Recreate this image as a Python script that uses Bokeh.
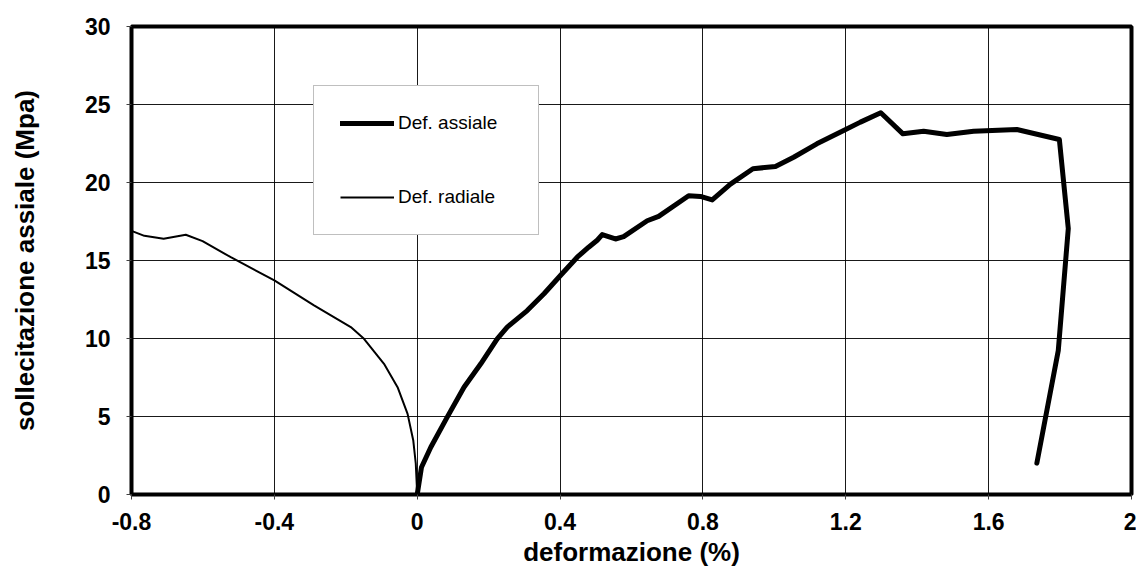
from bokeh.plotting import figure
from bokeh.models import FixedTicker, Legend, LegendItem, Range1d
from bokeh.embed import file_html
from bokeh.resources import INLINE

# ---- data ----
x_assiale = [0, 0.012, 0.038, 0.084, 0.131, 0.178, 0.224, 0.252, 0.308, 0.355, 0.401,
             0.448, 0.480, 0.504, 0.518, 0.555, 0.578, 0.644, 0.676, 0.760, 0.793, 0.826,
             0.877, 0.940, 1.003, 1.054, 1.119, 1.194, 1.241, 1.298, 1.360, 1.418,
             1.483, 1.558, 1.679, 1.798, 1.823, 1.795, 1.735]
y_assiale = [0, 1.75, 3.03, 4.96, 6.88, 8.38, 9.98, 10.73, 11.79, 12.87, 14.04,
             15.21, 15.85, 16.30, 16.66, 16.38, 16.53, 17.55, 17.83, 19.15, 19.11, 18.88,
             19.90, 20.88, 21.03, 21.62, 22.48, 23.33, 23.87, 24.47, 23.12, 23.29,
             23.08, 23.29, 23.40, 22.76, 17.05, 9.23, 2.01]

x_radiale = [-0.800, -0.764, -0.710, -0.648, -0.601, -0.522, -0.400, -0.289, -0.186,
             -0.149, -0.093, -0.055, -0.027, -0.011, -0.004, 0]
y_radiale = [16.90, 16.58, 16.39, 16.65, 16.24, 15.21, 13.72, 12.12, 10.73,
             9.98, 8.38, 6.88, 5.17, 3.46, 1.97, 0]

x_ticks = [-0.8, -0.4, 0, 0.4, 0.8, 1.2, 1.6, 2.0]
x_tick_labels = ["-0.8", "-0.4", "0", "0.4", "0.8", "1.2", "1.6", "2"]
y_ticks = [0, 5, 10, 15, 20, 25, 30]

FONT = "Liberation Sans"

p = figure(width=1136, height=569, frame_width=1000, frame_height=468,
           x_range=Range1d(-0.8, 2.0), y_range=Range1d(0, 30),
           output_backend="svg", toolbar_location=None,
           min_border_left=131, min_border_right=5, min_border_top=26, min_border_bottom=75)

p.background_fill_color = "white"
p.border_fill_color = "white"
p.outline_line_color = "black"
p.outline_line_width = 4

# grid
p.xgrid.ticker = FixedTicker(ticks=x_ticks)
p.ygrid.ticker = FixedTicker(ticks=y_ticks)
for g in (p.xgrid, p.ygrid):
    g.grid_line_color = "#000000"
    g.grid_line_width = 1
    g.grid_line_alpha = 0.9

# axes
p.xaxis.ticker = FixedTicker(ticks=x_ticks)
p.xaxis.major_label_overrides = {t: l for t, l in zip(x_ticks, x_tick_labels)}
p.yaxis.ticker = FixedTicker(ticks=y_ticks)
for ax in (p.xaxis, p.yaxis):
    ax.axis_line_color = None
    ax.major_tick_line_color = "#404040"
    ax.major_tick_out = 5
    ax.major_tick_in = 0
    ax.minor_tick_line_color = None
    ax.major_label_text_font = FONT
    ax.major_label_text_font_style = "bold"
    ax.major_label_text_font_size = "23px"
    ax.major_label_text_color = "black"
    ax.axis_label_text_font = FONT
    ax.axis_label_text_font_style = "bold"
    ax.axis_label_text_font_size = "26px"
    ax.axis_label_text_color = "black"

p.xaxis.axis_label = "deformazione (%)"
p.yaxis.axis_label = "sollecitazione assiale (Mpa)"
p.xaxis.major_label_standoff = 13
p.yaxis.major_label_standoff = 16
p.xaxis.axis_label_standoff = 4
p.yaxis.axis_label_standoff = 42

r_ass = p.line(x_assiale, y_assiale, line_color="black", line_width=5,
               line_join="round", line_cap="round")
r_rad = p.line(x_radiale, y_radiale, line_color="black", line_width=2,
               line_join="round")

legend = Legend(items=[LegendItem(label="Def. assiale", renderers=[r_ass]),
                       LegendItem(label="Def. radiale", renderers=[r_rad])],
                location=(182, 259), orientation="vertical",
                padding=26, spacing=52, margin=0,
                glyph_width=54, glyph_height=22, label_height=22, label_width=114,
                label_standoff=4,
                label_text_font=FONT, label_text_font_size="19px",
                label_text_color="black",
                border_line_color="#808080", border_line_width=1,
                background_fill_color="white", background_fill_alpha=1.0)
p.add_layout(legend, "center")

open("out.html", "w").write(file_html(p, INLINE))
